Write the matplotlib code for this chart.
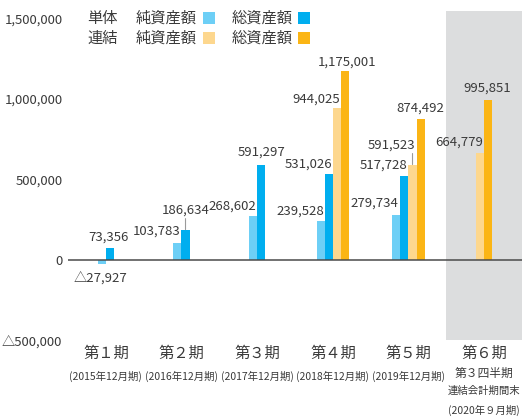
import matplotlib.pyplot as plt
from matplotlib.patches import Rectangle

plt.rcParams['font.family'] = ['Noto Sans CJK JP', 'DejaVu Sans']

periods = ['第１期', '第２期', '第３期', '第４期', '第５期', '第６期']
period_notes = [['(2015年12月期)'], ['(2016年12月期)'], ['(2017年12月期)'],
                ['(2018年12月期)'], ['(2019年12月期)'],
                ['第３四半期', '連結会計期間末', '(2020年９月期)']]

single_net = [-27927, 103783, 268602, 239528, 279734, None]
single_total = [73356, 186634, 591297, 531026, 517728, None]
consol_net = [None, None, None, 944025, 591523, 664779]
consol_total = [None, None, None, 1175001, 874492, 995851]

ytick_vals = [-500000, 0, 500000, 1000000, 1500000]
ytick_labels = ['△500,000', '0', '500,000', '1,000,000', '1,500,000']

c_lblue = '#6dcff6'
c_dblue = '#00aeef'
c_lorange = '#fdd78e'
c_orange = '#fbb515'
txt_col = '#3a3a3a'

# label placement in pixels (dx, dy, ha) for each bar
off_single_net = [(-1, -14, 'center'), (3, 12, 'right'), (3, 10, 'right'),
                  (3, 10, 'right'), (2, 12, 'right'), None]
off_single_total = [(-1, 11, 'center'), (0, 19, 'center'), (0, 12, 'center'),
                    (3, 10, 'right'), (3, 11, 'right'), None]
off_consol_net = [None, None, None, (3, 9, 'right'), (3, 19, 'right'), (3, 11, 'right')]
off_consol_total = [None, None, None, (2, 9, 'center'), (0, 11, 'center'), (-1, 11, 'center')]
leaders = {(1, 1), (2, 4)}  # (series, group) with a leader line

series = [
    (single_net, c_lblue, off_single_net),
    (single_total, c_dblue, off_single_total),
    (consol_net, c_lorange, off_consol_net),
    (consol_total, c_orange, off_consol_total),
]

W, H = 522, 417
fig = plt.figure(figsize=(W / 100, H / 100), dpi=100)
ax = fig.add_axes([68 / W, 77 / H, 454 / W, 329 / H])
ax.set_xlim(-0.5, 5.5)
ax.set_ylim(-500000, 1546600)
for s in ax.spines.values():
    s.set_visible(False)

ax.axvspan(4.5, 5.5, color='#dcddde', zorder=0, lw=0)
ax.axhline(0, color='#4a4a4a', lw=1.1, zorder=3)

w = 0.106
for i in range(len(periods)):
    present = [k for k in range(len(series)) if series[k][0][i] is not None]
    n = len(present)
    for j, k in enumerate(present):
        vals, col, offs = series[k]
        v = vals[i]
        x = i + (j - (n - 1) / 2) * w
        ax.bar(x, v, width=w, color=col, zorder=2, lw=0)
        label = f'{v:,}' if v >= 0 else f'△{-v:,}'
        dx, dy, ha = offs[i]
        ax.annotate(label, xy=(x, v), xytext=(dx, dy), textcoords='offset pixels',
                    ha=ha, va='center', fontsize=9.5, color=txt_col, zorder=4)
        if (k, i) in leaders:
            ax.annotate('', xy=(x, v), xytext=(0, 11), textcoords='offset pixels',
                        arrowprops=dict(arrowstyle='-', color='#9a9a9a', lw=0.8,
                                        shrinkA=0, shrinkB=0))

ax.set_yticks(ytick_vals)
ax.set_yticklabels(ytick_labels, fontsize=9.5, color=txt_col)
ax.tick_params(axis='y', length=0, pad=4)
ax.set_xticks([])

# period labels below
tr = ax.get_xaxis_transform()
def ypix(p):
    return (340 - p) / 329
for i, name in enumerate(periods):
    ax.text(i, ypix(353), name, ha='center', va='center', fontsize=11,
            color=txt_col, transform=tr, clip_on=False)
    notes = period_notes[i]
    if len(notes) == 1:
        ax.text(i, ypix(376), notes[0], ha='center', va='center', fontsize=7.5,
                color=txt_col, transform=tr, clip_on=False)
    else:
        ys = [373, 391, 410]
        sizes = [8.5, 7.5, 7.5]
        for t, yy, fs in zip(notes, ys, sizes):
            ax.text(i, ypix(yy), t, ha='center', va='center', fontsize=fs,
                    color=txt_col, transform=tr, clip_on=False)

# legend
def ftext(x, y, s, **kw):
    fig.text(x / W, 1 - y / H, s, va='center', ha='left', color=txt_col, **kw)

def fbox(x, y, col):
    fig.add_artist(Rectangle((x / W, 1 - (y + 12) / H), 12 / W, 12 / H,
                             transform=fig.transFigure, color=col, lw=0))

for y, grp, c1, c2 in [(18, '単体', c_lblue, c_dblue), (38, '連結', c_lorange, c_orange)]:
    ftext(87, y, grp, fontsize=11)
    ftext(136, y, '純資産額', fontsize=11)
    fbox(203, y - 6, c1)
    ftext(232, y, '総資産額', fontsize=11)
    fbox(298, y - 6, c2)

fig.savefig('out.png', dpi=100)
